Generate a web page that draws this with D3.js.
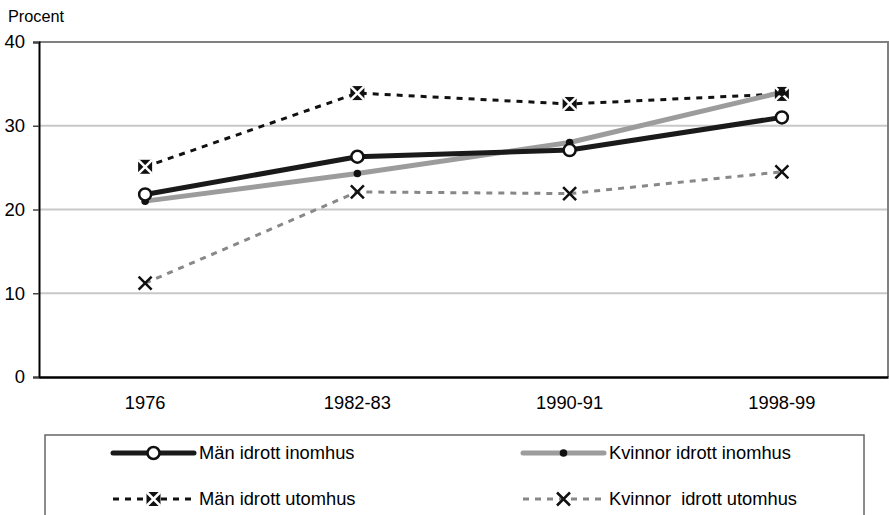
<!DOCTYPE html>
<html><head><meta charset="utf-8">
<script src="https://cdn.jsdelivr.net/npm/d3@7"></script>
<style>body{margin:0;background:#fff}svg{display:block;font-family:"Liberation Sans",Arial,sans-serif}text{white-space:pre}</style>
</head><body><svg id="c" width="889" height="515"></svg>
<script>
const categories = ["1976", "1982-83", "1990-91", "1998-99"];
const manInomhus = [21.8, 26.3, 27.1, 31.0];
const kvinnorInomhus = [21.0, 24.3, 28.0, 34.0];
const manUtomhus = [25.1, 33.9, 32.6, 33.8];
const kvinnorUtomhus = [11.2, 22.1, 21.9, 24.5];
const yTicks = [0, 10, 20, 30, 40];
const seriesNames = ["Män idrott inomhus", "Kvinnor idrott inomhus", "Män idrott utomhus", "Kvinnor  idrott utomhus"];

const svg = d3.select("#c");
const L = 39, R = 888, T = 42, B = 377;
const x = d3.scaleBand().domain(categories).range([L, R]).padding(0);
const y = d3.scaleLinear().domain([0, 40]).range([B, T]);
const cx = c => x(c) + x.bandwidth() / 2;

svg.append("g").selectAll("line").data(yTicks.filter(v => v > 0 && v < 40)).join("line")
  .attr("x1", L).attr("x2", R).attr("y1", d => y(d)).attr("y2", d => y(d))
  .attr("stroke", "#c8c8c8").attr("stroke-width", 2);
svg.append("path").attr("d", `M${L},${y(40)}H${R}V${B}`).attr("fill", "none")
  .attr("stroke", "#808080").attr("stroke-width", 2);

const yAxis = svg.append("g").attr("transform", `translate(${L},0)`)
  .call(d3.axisLeft(y).tickValues(yTicks).tickSize(6).tickPadding(8));
yAxis.select(".domain").attr("stroke", "#000").attr("stroke-width", 2);
yAxis.selectAll(".tick line").attr("stroke", "#444").attr("stroke-width", 1.5);
yAxis.selectAll(".tick text").attr("font-size", 18.5).attr("fill", "#000")
  .attr("font-family", "Liberation Sans, Arial, sans-serif");

const xAxis = svg.append("g").attr("transform", `translate(0,${B})`)
  .call(d3.axisBottom(x).tickSize(0).tickPadding(19));
xAxis.select(".domain").attr("stroke", "#000").attr("stroke-width", 2.5);
xAxis.selectAll(".tick text").attr("font-size", 18.3).attr("fill", "#000")
  .attr("font-family", "Liberation Sans, Arial, sans-serif");

svg.append("text").attr("x", 8).attr("y", 22).attr("font-size", 16.3).text("Procent");

const line = d3.line().x((d, i) => cx(categories[i])).y(d => y(d));

const series = [
  {name: seriesNames[0], vals: manInomhus, color: "#1a1a1a", w: 5, dash: null, marker: "circle"},
  {name: seriesNames[1], vals: kvinnorInomhus, color: "#9c9c9c", w: 5, dash: null, marker: "dot"},
  {name: seriesNames[2], vals: manUtomhus, color: "#111", w: 3, dash: "6,6", marker: "boxx"},
  {name: seriesNames[3], vals: kvinnorUtomhus, color: "#888", w: 3, dash: "6,6", marker: "x"}
];

function drawMarker(g, type, px, py) {
  if (type === "circle") {
    g.append("circle").attr("cx", px).attr("cy", py).attr("r", 6)
      .attr("fill", "#fff").attr("stroke", "#111").attr("stroke-width", 2.5);
  } else if (type === "dot") {
    g.append("circle").attr("cx", px).attr("cy", py).attr("r", 3.8).attr("fill", "#111");
  } else if (type === "boxx") {
    const s = 7;
    g.append("rect").attr("x", px - s).attr("y", py - s).attr("width", 2 * s).attr("height", 2 * s).attr("fill", "#111");
    g.append("path").attr("d", `M${px - s},${py - s}L${px + s},${py + s}M${px + s},${py - s}L${px - s},${py + s}`)
      .attr("stroke", "#fff").attr("stroke-width", 2.5);
  } else if (type === "x") {
    const s = 6.5;
    g.append("path").attr("d", `M${px - s},${py - s}L${px + s},${py + s}M${px + s},${py - s}L${px - s},${py + s}`)
      .attr("stroke", "#111").attr("stroke-width", 2.5);
  }
}

const order = [3, 2, 1, 0];
order.forEach(k => {
  const s = series[k];
  svg.append("path").datum(s.vals).attr("d", line).attr("fill", "none")
    .attr("stroke", s.color).attr("stroke-width", s.w)
    .attr("stroke-dasharray", s.dash).attr("stroke-linejoin", "round");
});
order.forEach(k => {
  const s = series[k];
  const g = svg.append("g");
  s.vals.forEach((v, i) => drawMarker(g, s.marker, cx(categories[i]), y(v)));
});

svg.append("rect").attr("x", 45).attr("y", 435).attr("width", 819).attr("height", 100)
  .attr("fill", "#fff").attr("stroke", "#666").attr("stroke-width", 1.5);
const legPos = [[113, 453], [523, 453], [113, 499], [523, 499]];
series.forEach((s, k) => {
  const [lx, ly] = legPos[k];
  const g = svg.append("g");
  g.append("line").attr("x1", lx).attr("x2", lx + 81).attr("y1", ly).attr("y2", ly)
    .attr("stroke", s.color).attr("stroke-width", s.w).attr("stroke-dasharray", s.dash)
    .attr("stroke-linecap", s.dash ? "butt" : "round");
  drawMarker(g, s.marker, lx + 40.5, ly);
  g.append("text").attr("x", lx + 86).attr("y", ly).attr("dy", "0.35em")
    .attr("font-size", 18.3).attr("fill", "#000").text(s.name);
});
</script></body></html>
